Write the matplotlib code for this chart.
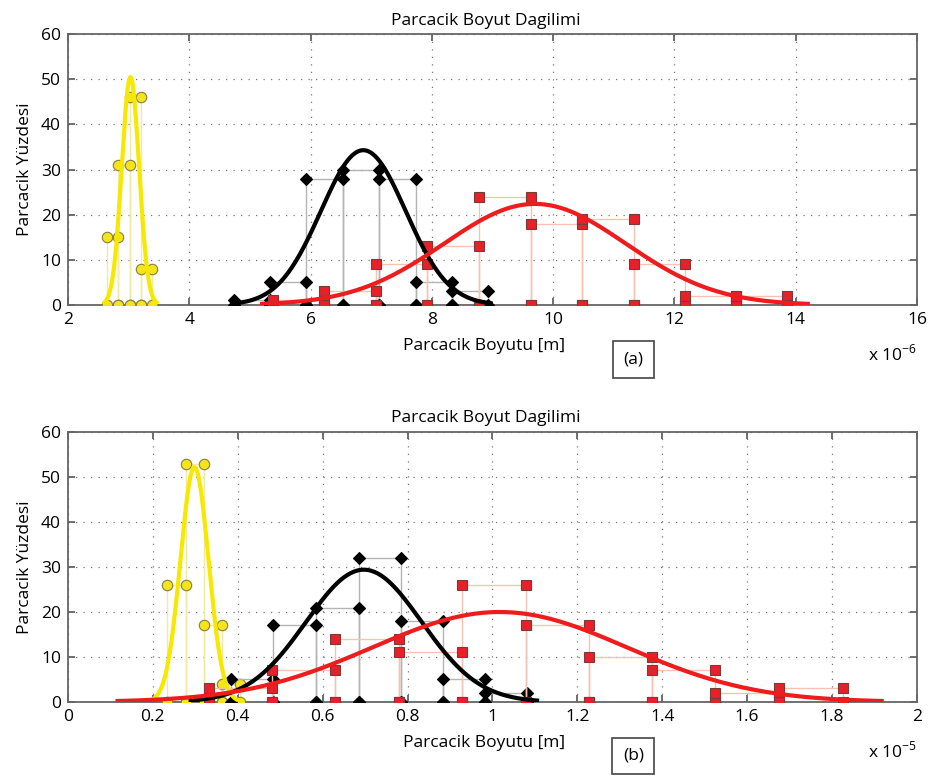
import numpy as np
import matplotlib
matplotlib.use('Agg')
import matplotlib.pyplot as plt

plt.rcParams['font.family'] = ['Open Sans', 'DejaVu Sans']
plt.rcParams['mathtext.fontset'] = 'custom'
plt.rcParams['mathtext.rm'] = 'Open Sans'

# (a) parcacik boyutu, x 1e-6 m
a_yellow_edges = [2.65, 2.83, 3.02, 3.20, 3.38]
a_yellow_pct = [15, 31, 46, 8]
a_black_edges = [4.73, 5.33, 5.93, 6.53, 7.13, 7.74, 8.33, 8.93]
a_black_pct = [1, 5, 28, 30, 28, 5, 3]
a_red_edges = [5.38, 6.23, 7.08, 7.92, 8.78, 9.63, 10.48, 11.33, 12.17, 13.02, 13.86]
a_red_pct = [1, 3, 9, 13, 24, 18, 19, 9, 2, 2]
# gauss fit: ortalama, sigma, tepe
a_fit_mu = [3.03, 6.87, 9.70]
a_fit_sigma = [0.143, 0.70, 1.50]
a_fit_peak = [50.5, 34.3, 22.4]

# (b) parcacik boyutu, x 1e-5 m
b_yellow_edges = [0.234, 0.278, 0.321, 0.364, 0.406]
b_yellow_pct = [26, 53, 17, 4]
b_black_edges = [0.384, 0.484, 0.584, 0.685, 0.784, 0.884, 0.983, 1.082]
b_black_pct = [5, 17, 21, 32, 18, 5, 2]
b_red_edges = [0.332, 0.481, 0.630, 0.780, 0.929, 1.079, 1.227, 1.376, 1.525, 1.674, 1.825]
b_red_pct = [3, 7, 14, 11, 26, 17, 10, 7, 2, 3]
b_fit_mu = [0.298, 0.697, 1.017]
b_fit_sigma = [0.033, 0.136, 0.300]
b_fit_peak = [52.2, 29.4, 20.0]

a_xticks = [2, 4, 6, 8, 10, 12, 14, 16]
b_xticks = [0, 0.2, 0.4, 0.6, 0.8, 1.0, 1.2, 1.4, 1.6, 1.8, 2.0]
b_xticklabels = ['0', '0.2', '0.4', '0.6', '0.8', '1', '1.2', '1.4', '1.6', '1.8', '2']
yticks = [0, 10, 20, 30, 40, 50, 60]

# stil: (cizgi rengi, marker, dolgu, kenar, boyut, fit rengi)
styles = [
    ('#F2EAA0', 'o', '#F4E41E', '#8A7E3A', 7.5, '#F7E800'),
    ('#B4B4B4', 'D', 'black', 'black', 6.5, 'black'),
    ('#F8C2B2', 's', '#E8202A', '#7A3A3A', 6.5, '#EE1C1C'),
]


def draw_hist(ax, edges, pct, st):
    xs, ys = [], []
    for i in range(len(pct)):
        xs += [edges[i], edges[i], edges[i + 1], edges[i + 1]]
        ys += [0, pct[i], pct[i], 0]
    ax.plot(xs, ys, color=st[0], lw=1.0, marker=st[1], mfc=st[2], mec=st[3],
            ms=st[4], mew=0.8, zorder=3)


def draw_fit(ax, mu, sigma, peak, st):
    x = np.linspace(mu - 3 * sigma, mu + 3 * sigma, 200)
    y = peak * np.exp(-(x - mu) ** 2 / (2 * sigma ** 2))
    ax.plot(x, y, color=st[5], lw=3.0, zorder=4)


def style_axes(ax, xlim, xticks, xticklabels, exponent, tag):
    ax.set_xlim(xlim)
    ax.set_ylim(0, 60)
    ax.set_xticks(xticks)
    ax.set_xticklabels(xticklabels)
    ax.set_yticks(yticks)
    ax.tick_params(direction='in', top=True, right=True, length=5, width=1.2,
                   color='#555555', labelsize=12.5, pad=5)
    for sp in ax.spines.values():
        sp.set_color('#666666')
        sp.set_linewidth(1.3)
    ax.grid(True, linestyle=(0, (1, 5)), color='#777777', linewidth=0.9)
    ax.set_axisbelow(True)
    ax.set_title('Parcacik Boyut Dagilimi', fontsize=12.5, pad=7)
    ax.title.set_x(0.492)
    ax.set_xlabel('Parcacik Boyutu [m]', fontsize=12.5, labelpad=7)
    ax.xaxis.label.set_x(0.49)
    ax.set_ylabel('Parcacik Yüzdesi', fontsize=12.5, labelpad=6)
    ax.text(1.0, -0.182, r'x 10$^{\mathregular{' + exponent + '}}$', transform=ax.transAxes,
            ha='right', va='center', fontsize=12.5)
    ax.text(0.666, -0.2, tag, transform=ax.transAxes, ha='center', va='center',
            fontsize=12.5, bbox=dict(boxstyle='square,pad=0.6', fc='white', ec='#444444', lw=1.2))


fig = plt.figure(figsize=(9.35, 7.78), dpi=100)
ax1 = fig.add_axes([0.0727, 0.608, 0.908, 0.348])
ax2 = fig.add_axes([0.0727, 0.0977, 0.908, 0.347])

a_sets = [(a_yellow_edges, a_yellow_pct), (a_black_edges, a_black_pct), (a_red_edges, a_red_pct)]
for i, (e, p) in enumerate(a_sets):
    draw_hist(ax1, e, p, styles[i])
    draw_fit(ax1, a_fit_mu[i], a_fit_sigma[i], a_fit_peak[i], styles[i])

b_sets = [(b_yellow_edges, b_yellow_pct), (b_black_edges, b_black_pct), (b_red_edges, b_red_pct)]
for i, (e, p) in enumerate(b_sets):
    draw_hist(ax2, e, p, styles[i])
    draw_fit(ax2, b_fit_mu[i], b_fit_sigma[i], b_fit_peak[i], styles[i])

style_axes(ax1, (2, 16), a_xticks, [str(t) for t in a_xticks], '-6', '(a)')
style_axes(ax2, (0, 2), b_xticks, b_xticklabels, '-5', '(b)')

fig.savefig('out.png', dpi=100)
